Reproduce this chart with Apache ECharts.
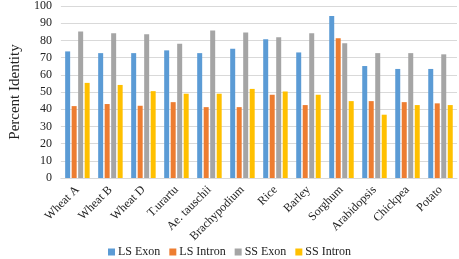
<!DOCTYPE html>
<html>
<head>
<meta charset="utf-8">
<script src="https://cdn.jsdelivr.net/npm/echarts@6/dist/echarts.min.js"></script>
<style>
  html, body { margin: 0; padding: 0; background: #fff; }
  #chart { width: 459px; height: 259px; }
</style>
</head>
<body>
<div id="chart"></div>
<script>
var categories = ['Wheat A', 'Wheat B', 'Wheat D', 'T.urartu', 'Ae. tauschii', 'Brachypodium',
                  'Rice', 'Barley', 'Sorghum', 'Arabidopsis', 'Chickpea', 'Potato'];
var lsExon   = [73.6, 72.6, 72.6, 74.2, 72.6, 75.1, 80.7, 73.0, 94.2, 65.1, 63.4, 63.4];
var lsIntron = [41.8, 43.0, 42.0, 44.1, 41.2, 41.2, 48.4, 42.4, 81.3, 44.7, 44.1, 43.4];
var ssExon   = [85.2, 84.2, 83.6, 78.0, 85.7, 84.6, 81.9, 84.2, 78.4, 72.6, 72.6, 71.9];
var ssIntron = [55.3, 54.1, 50.5, 49.0, 49.0, 51.8, 50.3, 48.4, 44.7, 36.8, 42.4, 42.4];

var chart = echarts.init(document.getElementById('chart'));
var font = '"Liberation Serif", "Times New Roman", serif';

function bar(name, data, color) {
    return {
        name: name,
        type: 'bar',
        data: data,
        barWidth: 5,
        barGap: '30%',
        itemStyle: { color: color }
    };
}

chart.setOption({
    animation: false,
    textStyle: { fontFamily: font },
    grid: { left: 41, right: 2, top: 5, bottom: 81 },
    legend: {
        bottom: 1,
        left: 'center',
        padding: 0,
        itemWidth: 7,
        itemHeight: 7,
        itemGap: 9,
        icon: 'rect',
        textStyle: { fontFamily: font, fontSize: 12, color: '#222', padding: [0, 0, 0, -2] },
        data: ['LS Exon', 'LS Intron', 'SS Exon', 'SS Intron']
    },
    xAxis: {
        type: 'category',
        data: categories,
        axisLine: { lineStyle: { color: '#d9d9d9' } },
        axisTick: { show: false },
        axisLabel: { rotate: 45, interval: 0, fontFamily: font, fontSize: 12, color: '#222', margin: 10 }
    },
    yAxis: {
        type: 'value',
        min: 0,
        max: 100,
        interval: 10,
        name: 'Percent Identity',
        nameLocation: 'middle',
        nameGap: 31,
        nameTextStyle: { fontFamily: font, fontSize: 15, color: '#222' },
        axisLine: { show: false },
        axisTick: { show: false },
        axisLabel: { fontFamily: font, fontSize: 12, color: '#222', margin: 9 },
        splitLine: { lineStyle: { color: '#d9d9d9' } }
    },
    series: [
        bar('LS Exon', lsExon, '#5B9BD5'),
        bar('LS Intron', lsIntron, '#ED7D31'),
        bar('SS Exon', ssExon, '#A5A5A5'),
        bar('SS Intron', ssIntron, '#FFC000')
    ]
});
</script>
</body>
</html>
